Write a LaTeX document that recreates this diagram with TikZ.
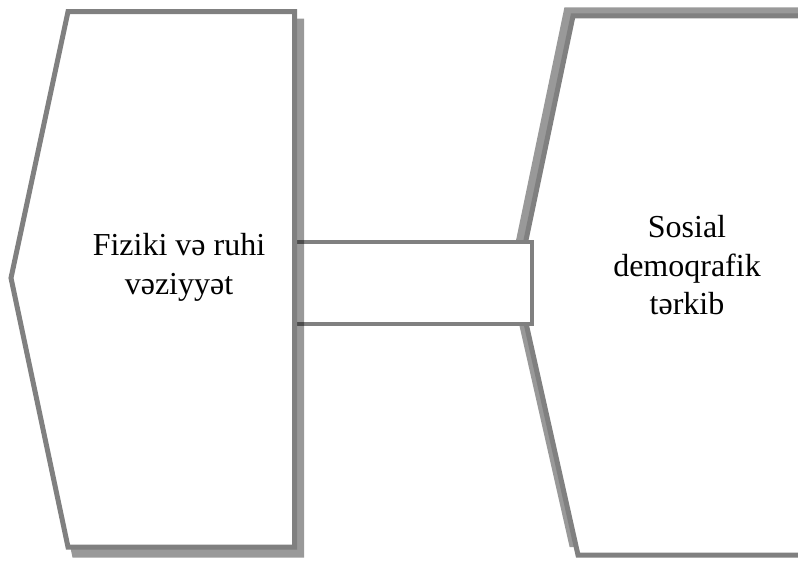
\documentclass[tikz,border=0pt]{standalone}
\usepackage{fontspec}
\setmainfont{Liberation Serif}
\definecolor{edgegray}{HTML}{808080}
\definecolor{shadowgray}{HTML}{999999}
\tikzset{
  panel/.style={draw=edgegray, fill=white, line width=5pt, line join=miter},
  rightshadow/.style={fill=shadowgray},
  leftshadow/.style={fill=black, fill opacity=0.4},
  link/.style={draw=edgegray, fill=white, line width=4.5pt},
  label/.style={align=center, inner sep=0pt}
}
\begin{document}
\begin{tikzpicture}[x=1pt, y=-1pt]
  \useasboundingbox (0,0) rectangle (798,561);
  \clip (0,0) rectangle (798,561);

  % right panel: drop shadow toward the upper left, then the panel itself
  \fill[rightshadow] (826,7.5) -- (564.4,7.5) -- (508.4,277) -- (569.6,547) -- (826,547) -- cycle;
  \draw[panel] (820,16) -- (573,16) -- (517,283) -- (578,555) -- (820,555) -- cycle;

  % connecting band between the two panels
  \coordinate (bandNW) at (294.5,242);
  \coordinate (bandSE) at (532,324);
  \draw[link] (bandNW) rectangle (bandSE);

  % left panel: translucent drop shadow toward the lower right, then the panel
  \fill[leftshadow] (72.5,18.7) -- (304,18.7) -- (304,557.5) -- (72.5,557.5) -- (15.5,285) -- cycle;
  \draw[panel] (68,11.7) -- (294.5,11.7) -- (294.5,547) -- (68,547) -- (11,278) -- cycle;

  % labels
  \node[label, font=\fontsize{32}{39}\selectfont] (physical) at (179,267) {Fiziki və ruhi\\vəziyyət};
  \node[label, font=\fontsize{32}{38.5}\selectfont] (social) at (687,265.5) {Sosial\\demoqrafik\\tərkib};
\end{tikzpicture}
\end{document}
